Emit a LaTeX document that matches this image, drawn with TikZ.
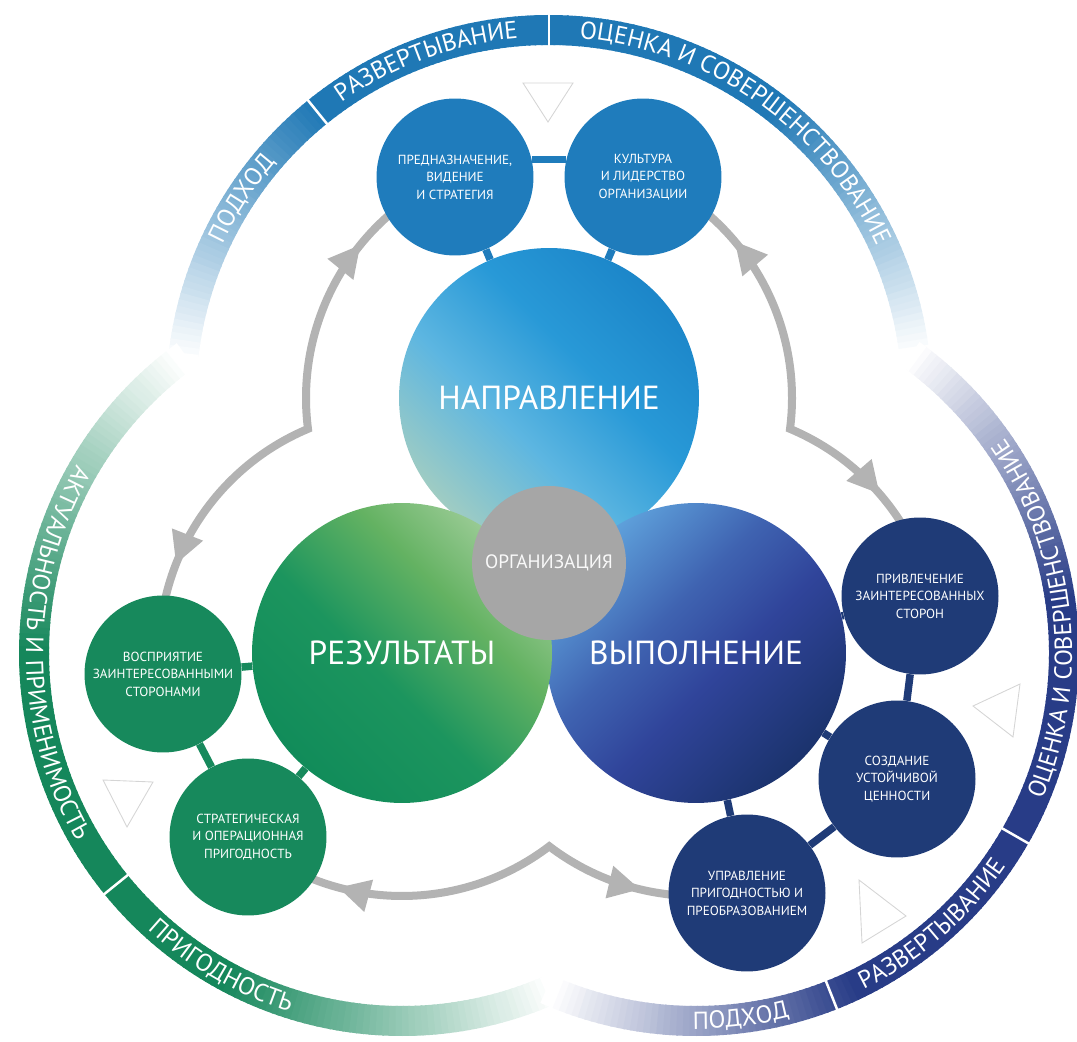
\documentclass[tikz,border=0pt]{standalone}
\usepackage{fontspec}
\setmainfont{PT Sans}
\usepackage{xcolor}
\usetikzlibrary{arrows.meta, decorations.markings, decorations.text}

\definecolor{bandtop}{HTML}{1F78B5}
\definecolor{bandleft}{HTML}{15875B}
\definecolor{bandright}{HTML}{283C87}
\definecolor{dirblue}{HTML}{1F7CBC}
\definecolor{resgreen}{HTML}{17895C}
\definecolor{exenavy}{HTML}{1F3B77}
\definecolor{loopgray}{HTML}{B3B3B3}
\definecolor{orggray}{HTML}{A6A6A6}
\definecolor{trigray}{HTML}{D5D5D5}
% colours of the three big circles
\definecolor{naprA}{HTML}{9FCCC3}
\definecolor{naprB}{HTML}{5DB6E1}
\definecolor{naprC}{HTML}{2899D7}
\definecolor{naprD}{HTML}{1C86C9}
\definecolor{rezA}{HTML}{118C5A}
\definecolor{rezB}{HTML}{1C955E}
\definecolor{rezC}{HTML}{64B262}
\definecolor{rezD}{HTML}{9ACB95}
\definecolor{vypA}{HTML}{5FA2DC}
\definecolor{vypB}{HTML}{3F63B1}
\definecolor{vypC}{HTML}{30449A}
\definecolor{vypD}{HTML}{1B336D}

\pgfdeclarehorizontalshading{naprshade}{100bp}{color(0bp)=(naprA); color(25bp)=(naprA); color(42bp)=(naprB); color(58bp)=(naprC); color(75bp)=(naprD); color(100bp)=(naprD)}
\pgfdeclarehorizontalshading{rezshade}{100bp}{color(0bp)=(rezA); color(25bp)=(rezA); color(45bp)=(rezB); color(62bp)=(rezC); color(75bp)=(rezD); color(100bp)=(rezD)}
\pgfdeclarehorizontalshading{vypshade}{100bp}{color(0bp)=(vypA); color(25bp)=(vypA); color(42bp)=(vypB); color(55bp)=(vypC); color(75bp)=(vypD); color(100bp)=(vypD)}

\pgfdeclarelayer{background}
\pgfsetlayers{background,main}

\newcommand\bandsize{\fontsize{14}{14}\selectfont}

\tikzset{
  maincirc/.style={circle, minimum size=6cm, inner sep=0pt, shade, text=white, font=\fontsize{19}{19}\selectfont},
  orgcirc/.style={circle, minimum size=3.08cm, inner sep=0pt, fill=orggray, text=white!95!gray, font=\fontsize{11}{11}\selectfont},
  smallcirc/.style={circle, minimum size=3.14cm, inner sep=0pt, align=center, text=white, font=\fontsize{7.5}{10}\selectfont},
  dircirc/.style={smallcirc, fill=dirblue},
  rescirc/.style={smallcirc, fill=resgreen},
  execirc/.style={smallcirc, fill=exenavy},
  dirlink/.style={line width=1.5mm, draw=dirblue},
  reslink/.style={line width=1.5mm, draw=resgreen},
  exelink/.style={line width=1.5mm, draw=exenavy},
  band/.style={line width=6mm},
  sepline/.style={draw=white, line width=0.5mm},
  bandlabel/.style={decorate, decoration={text along path, text align=center, text color=white, text={|\bandsize|#1}}},
  loopline/.style={line width=1.6mm, draw=loopgray},
  loopmarks/.style 2 args={postaction=decorate, decoration={markings,
      mark=at position #1 with {\arrowreversed{Triangle[length=6.4mm, width=6.2mm]}},
      mark=at position #2 with {\arrow{Triangle[length=6.4mm, width=6.2mm]}}}},
  tri/.style={draw=trigray, line width=0.5pt}
}

\begin{document}
\begin{tikzpicture}[x=0.02cm, y=0.02cm]
  \useasboundingbox (0,0) rectangle (1077,1041);

  % big circles
  \node[maincirc, shading=naprshade, shading angle=45] (napr) at (549,643) {НАПРАВЛЕНИЕ};
  \node[maincirc, shading=vypshade, shading angle=-45] (vyp) at (696,388) {ВЫПОЛНЕНИЕ};
  \node[maincirc, shading=rezshade, shading angle=45] (rez) at (402,388) {РЕЗУЛЬТАТЫ};
  \node[orgcirc] (org) at (549,478) {ОРГАНИЗАЦИЯ};

  % small circles
  \node[dircirc] (pred) at (455,864) {ПРЕДНАЗНАЧЕНИЕ,\\ВИДЕНИЕ\\И СТРАТЕГИЯ};
  \node[dircirc] (kult) at (643,864) {КУЛЬТУРА\\И ЛИДЕРСТВО\\ОРГАНИЗАЦИИ};
  \node[rescirc] (vosp) at (163,367) {ВОСПРИЯТИЕ\\ЗАИНТЕРЕСОВАННЫМИ\\СТОРОНАМИ};
  \node[rescirc] (strat) at (248,204) {СТРАТЕГИЧЕСКАЯ\\И ОПЕРАЦИОННАЯ\\ПРИГОДНОСТЬ};
  \node[execirc] (privl) at (920,445) {ПРИВЛЕЧЕНИЕ\\ЗАИНТЕРЕСОВАННЫХ\\СТОРОН};
  \node[execirc] (sozd) at (897,262) {СОЗДАНИЕ\\УСТОЙЧИВОЙ\\ЦЕННОСТИ};
  \node[execirc] (upr) at (747,148) {УПРАВЛЕНИЕ\\ПРИГОДНОСТЬЮ И\\ПРЕОБРАЗОВАНИЕМ};

  % links
  \draw[dirlink] (pred.13) -- (kult.167);
  \draw[dirlink] (pred) -- (napr);
  \draw[dirlink] (kult) -- (napr);
  \draw[reslink] (vosp) -- (rez);
  \draw[reslink] (vosp) -- (strat);
  \draw[reslink] (strat) -- (rez);
  \draw[exelink] (privl) -- (vyp);
  \draw[exelink] (privl) -- (sozd);
  \draw[exelink] (sozd) -- (vyp);
  \draw[exelink] (upr) -- (vyp);
  \draw[exelink] (upr) -- (sozd);

  % faint triangles
  \draw[tri] (523,958) -- (573,958) -- (548,919) -- cycle;
  \draw[tri] (103,261) -- (153,259) -- (127,214) -- cycle;
  \draw[tri] (973,335) -- (1020,357) -- (1013,304) -- cycle;
  \draw[tri] (859,161) -- (862,98) -- (906,125) -- cycle;

  \begin{pgfonlayer}{background}
    % outer band, three lobes
    \foreach \a in {6,...,173} {
      \pgfmathtruncatemacro\p{100*max(0,min(1,(\a-6.6)/45,(173.4-\a)/45))}
      \draw[band, bandtop!\p!white] ([shift={(\a:368)}]napr.center) arc[start angle=\a, end angle=\a+1.3, radius=368];
    }
    \foreach \a in {126,...,293} {
      \pgfmathtruncatemacro\p{100*max(0,min(1,(\a-126.7)/52,(293.3-\a)/52))}
      \draw[band, bandleft!\p!white] ([shift={(\a:368)}]rez.center) arc[start angle=\a, end angle=\a+1.3, radius=368];
    }
    \foreach \a in {-114,...,53} {
      \pgfmathtruncatemacro\p{100*max(0,min(1,(\a+113.3)/48,(53.3-\a)/45))}
      \draw[band, bandright!\p!white] ([shift={(\a:368)}]vyp.center) arc[start angle=\a, end angle=\a+1.3, radius=368];
    }
    \foreach \c/\a in {napr/129, napr/90, rez/219, vyp/-68.4, vyp/-29.8}
      \draw[sepline] ([shift={(\a:352)}]\c.center) -- ([shift={(\a:384)}]\c.center);

    % band texts
    \path[bandlabel=ПОДХОД] ([shift={(167:361)}]napr.center) arc[start angle=167, end angle=127, radius=361];
    \path[bandlabel=РАЗВЕРТЫВАНИЕ] ([shift={(128:361)}]napr.center) arc[start angle=128, end angle=92, radius=361];
    \path[bandlabel={ОЦЕНКА И СОВЕРШЕНСТВОВАНИЕ}] ([shift={(88:361)}]napr.center) arc[start angle=88, end angle=22, radius=361];
    \path[bandlabel={АКТУАЛЬНОСТЬ И ПРИМЕНИМОСТЬ}] ([shift={(140:376)}]rez.center) arc[start angle=140, end angle=220, radius=376];
    \path[bandlabel=ПРИГОДНОСТЬ] ([shift={(222:376)}]rez.center) arc[start angle=222, end angle=258, radius=376];
    \path[bandlabel=ПОДХОД] ([shift={(-98:376)}]vyp.center) arc[start angle=-98, end angle=-68, radius=376];
    \path[bandlabel=РАЗВЕРТЫВАНИЕ] ([shift={(-67:376)}]vyp.center) arc[start angle=-67, end angle=-31, radius=376];
    \path[bandlabel={ОЦЕНКА И СОВЕРШЕНСТВОВАНИЕ}] ([shift={(-28:376)}]vyp.center) arc[start angle=-28, end angle=40, radius=376];

    % grey loops
    \draw[loopline, loopmarks={0.19}{0.82}] ([shift={(113:243)}]napr.center) arc[start angle=113, end angle=187.3, radius=243] arc[start angle=112.8, end angle=185, radius=243];
    \draw[loopline, loopmarks={0.21}{0.79}] ([shift={(67:243)}]napr.center) arc[start angle=67, end angle=-7.3, radius=243] arc[start angle=67.2, end angle=14, radius=243];
    \draw[loopline, loopmarks={0.195}{0.80}] ([shift={(230:243)}]rez.center) arc[start angle=230, end angle=307.3, radius=243] arc[start angle=232.7, end angle=282, radius=243];
  \end{pgfonlayer}
\end{tikzpicture}
\end{document}
